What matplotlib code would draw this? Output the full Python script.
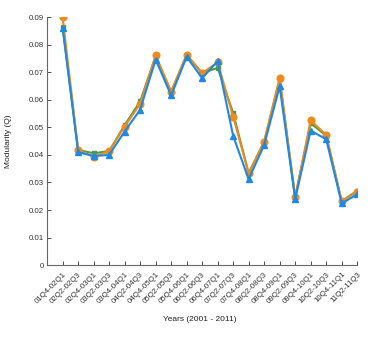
import matplotlib
matplotlib.use("Agg")
import matplotlib.pyplot as plt

periods = ["01Q4-02Q1", "02Q2-02Q3", "02Q4-03Q1", "03Q2-03Q3", "03Q4-04Q1",
           "04Q2-04Q3", "04Q4-05Q1", "05Q2-05Q3", "05Q4-06Q1", "06Q2-06Q3",
           "06Q4-07Q1", "07Q2-07Q3", "07Q4-08Q1", "08Q2-08Q3", "08Q4-09Q1",
           "09Q2-09Q3", "09Q4-10Q1", "10Q2-10Q3", "10Q4-11Q1", "11Q2-11Q3"]

series_orange = [0.0900, 0.0418, 0.0393, 0.0414, 0.0503, 0.0585, 0.0761, 0.0630, 0.0764, 0.0697,
                 0.0736, 0.0539, 0.0333, 0.0448, 0.0679, 0.0246, 0.0525, 0.0473, 0.0232, 0.0266]
series_green = [0.0866, 0.0418, 0.0406, 0.0414, 0.0508, 0.0594, 0.0758, 0.0628, 0.0762, 0.0697,
                0.0716, 0.0552, 0.0333, 0.0448, 0.0675, 0.0246, 0.0515, 0.0470, 0.0232, 0.0270]
series_blue = [0.0862, 0.0410, 0.0396, 0.0400, 0.0485, 0.0564, 0.0746, 0.0616, 0.0756, 0.0679,
               0.0740, 0.0469, 0.0312, 0.0436, 0.0649, 0.0240, 0.0488, 0.0457, 0.0224, 0.0257]

plt.rcParams['font.family'] = ['Liberation Sans', 'DejaVu Sans']

fig = plt.figure(figsize=(3.74, 3.43), dpi=100)
ax = fig.add_axes([0.126, 0.227, 0.829, 0.723])

x = list(range(1, len(periods) + 1))
ax.plot(x, series_green, color='#4a9a4a', marker='s', markersize=3.5, linewidth=1.5, zorder=2)
ax.plot(x, series_orange, color='#f08a1c', marker='o', markersize=4.8, linewidth=1.5, zorder=3)
ax.plot(x, series_blue, color='#1e88e5', marker='^', markersize=4.8, linewidth=1.5, zorder=4)

ax.set_xlim(0, 20)
ax.set_ylim(0, 0.09)
ax.set_yticks([0, 0.01, 0.02, 0.03, 0.04, 0.05, 0.06, 0.07, 0.08, 0.09])
ax.set_yticklabels(['0', '0.01', '0.02', '0.03', '0.04', '0.05', '0.06', '0.07', '0.08', '0.09'])
ax.set_xticks(x)
ax.set_xticklabels(periods, rotation=45, ha='right', rotation_mode='anchor')

for s in ['top', 'right']:
    ax.spines[s].set_visible(False)
for s in ['left', 'bottom']:
    ax.spines[s].set_color('#666666')
    ax.spines[s].set_linewidth(0.8)

ax.tick_params(axis='both', labelsize=5.7, colors='#333333', length=3, width=0.6,
               direction='in', pad=2)
ax.tick_params(axis='x', pad=4)

ax.set_ylabel('Modularity (Q)', fontsize=6, color='#222222', labelpad=12)
fig.text(0.535, 0.065, 'Years (2001 - 2011)', fontsize=6, color='#222222', ha='center')

fig.savefig('out.png', dpi=100)
